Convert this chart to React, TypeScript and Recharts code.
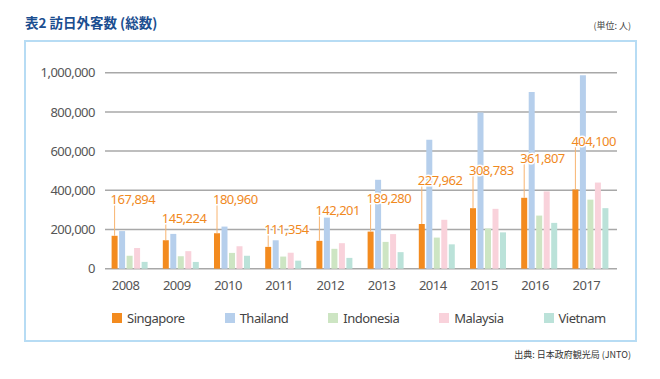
import React from 'react';
import { BarChart, Bar, XAxis, YAxis, CartesianGrid, LabelList } from 'recharts';

const years = ['2008', '2009', '2010', '2011', '2012', '2013', '2014', '2015', '2016', '2017'];
const singapore = [167894, 145224, 180960, 111354, 142201, 189280, 227962, 308783, 361807, 404100];
const thailand = [191881, 177541, 214881, 144969, 260640, 453642, 657570, 796731, 901525, 987211];
const indonesia = [66593, 63617, 80632, 61911, 101460, 136797, 158739, 205083, 271014, 352330];
const malaysia = [105663, 89509, 114519, 81516, 130183, 176521, 249521, 305447, 394268, 439548];
const vietnam = [34835, 34522, 66000, 41048, 55156, 84469, 124266, 185395, 233763, 308898];
// value level (persons) at which each Singapore call-out label sits
const labelLevels = [355000, 255000, 355000, 203000, 300000, 358000, 449000, 500000, 561000, 648000];
const yTicks = [0, 200000, 400000, 600000, 800000, 1000000];

const seriesNames = ['Singapore', 'Thailand', 'Indonesia', 'Malaysia', 'Vietnam'];
const seriesKeys = ['singapore', 'thailand', 'indonesia', 'malaysia', 'vietnam'];
const seriesColors = ['#f38b1f', '#b6cfec', '#cde5c3', '#f9d2db', '#bbe2d9'];

const data = years.map((year, i) => ({
  year,
  singapore: singapore[i],
  thailand: thailand[i],
  indonesia: indonesia[i],
  malaysia: malaysia[i],
  vietnam: vietnam[i],
}));

const FONT = '"Noto Sans", "Open Sans", sans-serif';
const CJK = '"Noto Sans CJK JP", "Noto Sans", sans-serif';

const fmt = (v: number) => v.toLocaleString('en-US');

const SgLabel = (props: any) => {
  const vb = props.viewBox || {};
  const x = vb.x ?? props.x;
  const y = vb.y ?? props.y;
  const width = vb.width ?? props.width;
  const height = vb.height ?? props.height;
  const index = props.index;
  if (index == null || x == null) return null;
  const value = singapore[index];
  const base = y + height;
  const cy = base - (labelLevels[index] * height) / value;
  const cx = x + width / 2;
  return (
    <g>
      <line x1={cx} y1={y} x2={cx} y2={cy + 5} stroke="#f8b470" strokeWidth={1} />
      <text
        x={x - 1}
        y={cy + 4.6}
        fill="#f0891e"
        fontSize={13}
        letterSpacing={-0.5}
        fontFamily={FONT}
        stroke="#ffffff"
        strokeWidth={3}
        paintOrder="stroke"
        strokeLinejoin="round"
      >
        {fmt(value)}
      </text>
    </g>
  );
};

const XTick = (props: any) => {
  const { x, y, payload } = props;
  return (
    <text x={x - 5} y={y + 21.5} textAnchor="middle" fill="#555" fontSize={13} letterSpacing={-0.5} fontFamily={FONT}>
      {payload.value}
    </text>
  );
};

export default function App() {
  return (
    <div style={{ position: 'absolute', left: 0, top: 0, width: 660, height: 379, background: '#fff', overflow: 'hidden' }}>
      <div
        style={{
          position: 'absolute',
          left: 25,
          top: 13,
          fontFamily: CJK,
          fontWeight: 700,
          fontSize: 13.5,
          color: '#1b4e90',
          whiteSpace: 'nowrap',
          lineHeight: '18px',
        }}
      >
        表2 訪日外客数 (総数)
      </div>
      <div
        style={{
          position: 'absolute',
          right: 29,
          top: 20,
          fontFamily: CJK,
          fontSize: 9,
          color: '#444',
          whiteSpace: 'nowrap',
          lineHeight: '12px',
        }}
      >
        (単位: 人)
      </div>
      <div
        style={{
          position: 'absolute',
          left: 24,
          top: 40,
          width: 609,
          height: 298,
          border: '2px solid #b7dcf4',
        }}
      />
      <div style={{ position: 'absolute', left: 0, top: 0 }}>
        <BarChart
          width={660}
          height={379}
          data={data}
          margin={{ top: 72.7, right: 43, bottom: 80.3, left: 0 }}
          barCategoryGap={6.6}
          barGap={1.5}
        >
          <CartesianGrid vertical={false} stroke="#a8a8a8" strokeWidth={1.5} />
          <XAxis
            dataKey="year"
            axisLine={false}
            tickLine={false}
            tickSize={0}
            tickMargin={0}
            height={30}
            tick={<XTick />}
            interval={0}
          />
          <YAxis
            width={105}
            domain={[0, 1000000]}
            ticks={yTicks}
            axisLine={false}
            tickLine={false}
            tickSize={6}
            tickMargin={4}
            tickFormatter={fmt}
            tick={{ fill: '#555', fontSize: 13, fontFamily: FONT, letterSpacing: -0.5 }}
            interval={0}
          />
          {seriesKeys.map((k, i) => (
            <Bar key={k} dataKey={k} name={seriesNames[i]} fill={seriesColors[i]} isAnimationActive={false}>
              {i === 0 ? <LabelList dataKey="singapore" content={<SgLabel />} /> : null}
            </Bar>
          ))}
        </BarChart>
      </div>
      <div
        style={{
          position: 'absolute',
          left: 112,
          top: 309,
          display: 'flex',
          alignItems: 'center',
          height: 17,
          fontFamily: FONT,
          fontSize: 13,
          letterSpacing: -0.5,
          color: '#444',
          whiteSpace: 'nowrap',
        }}
      >
        {seriesNames.map((n, i) => (
          <div key={n} style={{ display: 'flex', alignItems: 'center', marginRight: 40 }}>
            <div style={{ width: 10, height: 10, background: seriesColors[i], marginRight: 5 }} />
            <span>{n}</span>
          </div>
        ))}
      </div>
      <div
        style={{
          position: 'absolute',
          right: 29,
          top: 349,
          fontFamily: CJK,
          fontSize: 9,
          color: '#333',
          whiteSpace: 'nowrap',
          lineHeight: '12px',
        }}
      >
        出典: 日本政府観光局 (JNTO)
      </div>
    </div>
  );
}
